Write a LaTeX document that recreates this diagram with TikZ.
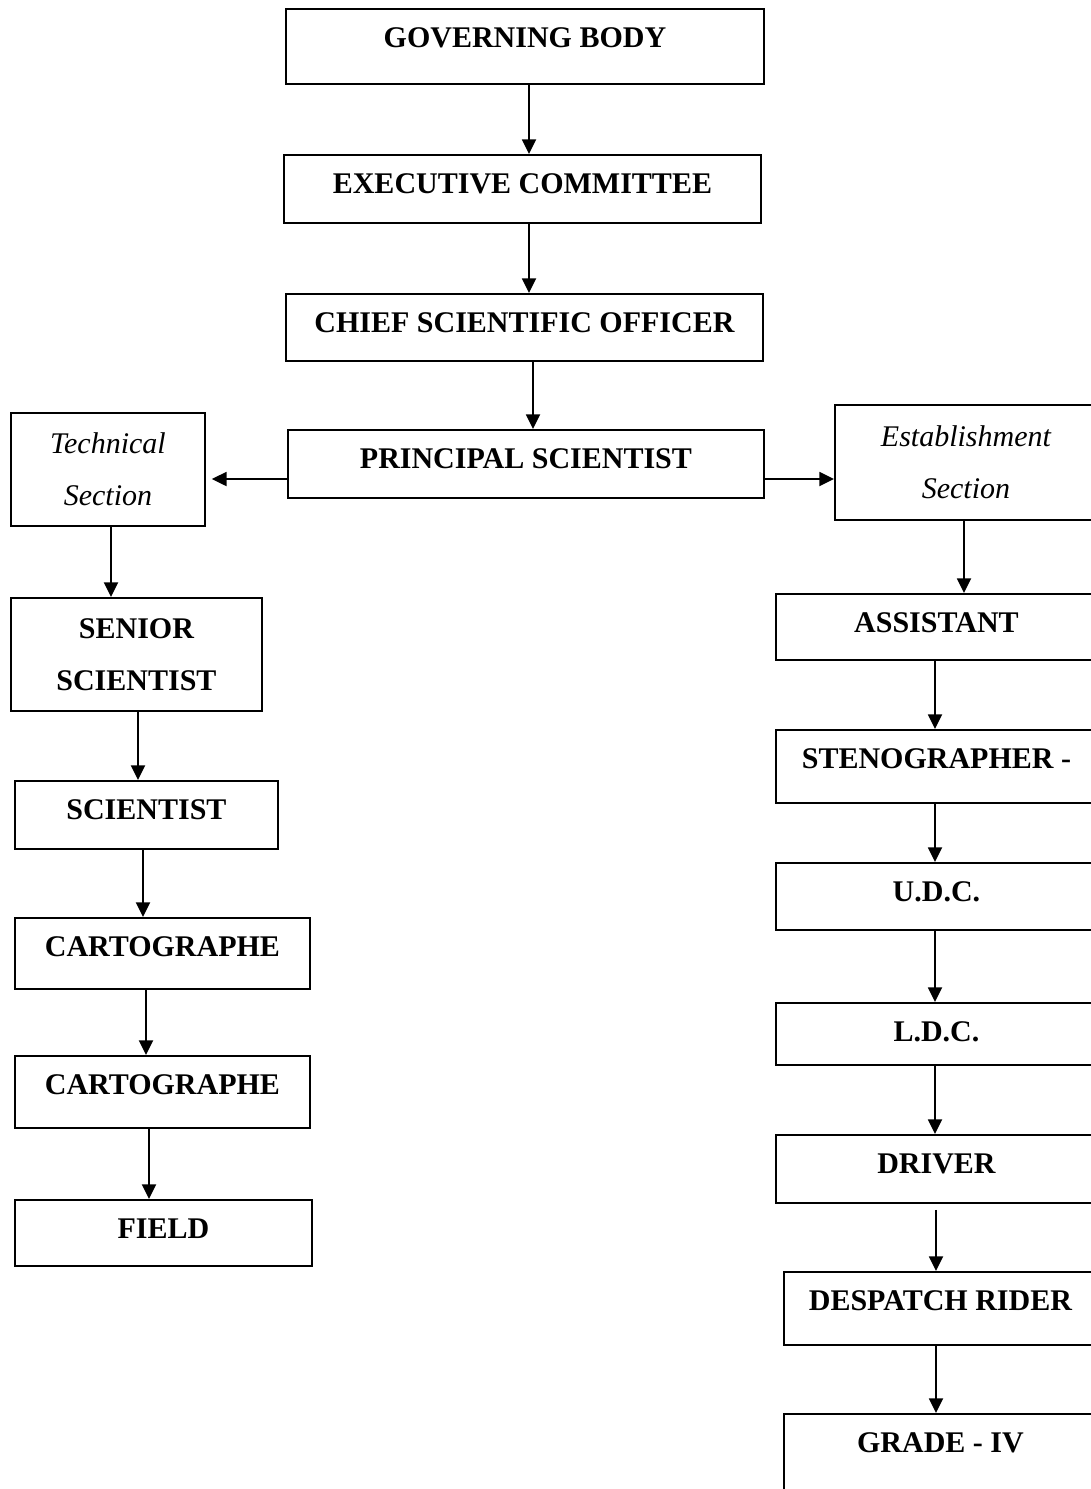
\documentclass[tikz,border=0pt]{standalone}
\usepackage{fontspec}
\setmainfont{Liberation Serif}
\usetikzlibrary{arrows.meta}

\begin{document}
\begin{tikzpicture}[x=0.75pt,y=-0.75pt,line width=1.4pt,
    postbox/.style={draw, anchor=north west, inner sep=0pt, text height=29.25pt,
        font=\fontsize{22.5}{27}\selectfont\bfseries},
    secbox/.style={draw, anchor=north west, inner sep=0pt, align=center,
        font=\fontsize{22.5}{39}\selectfont\itshape},
    twobox/.style={draw, anchor=north west, inner sep=0pt, align=center,
        font=\fontsize{22.5}{39}\selectfont\bfseries},
    down/.style={-{Triangle[length=11pt,width=10.5pt]}}
]
\useasboundingbox (0,0) rectangle (1090,1489);

\node[postbox, minimum width=358.5pt, text depth=27pt] (gb) at (285,8) {GOVERNING BODY};
\node[postbox, minimum width=357.75pt, text depth=21.75pt] (ec) at (283,154) {EXECUTIVE COMMITTEE};
\node[postbox, minimum width=357.75pt, text depth=21pt] (cso) at (285,293) {CHIEF SCIENTIFIC OFFICER};
\node[postbox, minimum width=357pt, text depth=21.75pt] (ps) at (287,429) {PRINCIPAL SCIENTIST};

\node[secbox, minimum width=145.5pt, minimum height=84.75pt] (tech) at (10,412) {Technical\\Section};
\node[secbox, minimum width=196.5pt, minimum height=86.25pt] (estab) at (834,404) {Establishment\\Section};

\node[twobox, minimum width=188.25pt, minimum height=84.75pt] (senior) at (10,597) {SENIOR\\SCIENTIST};
\node[postbox, minimum width=197.25pt, text depth=21.75pt] (sci) at (14,780) {SCIENTIST};
\node[postbox, minimum width=221.25pt, text depth=24pt] (carta) at (14,917) {CARTOGRAPHE};
\node[postbox, minimum width=221.25pt, text depth=24.75pt] (cartb) at (14,1055) {CARTOGRAPHE};
\node[postbox, minimum width=222.75pt, text depth=20.25pt] (field) at (14,1199) {FIELD};

\node[postbox, minimum width=240.75pt, text depth=20.25pt] (asst) at (775,593) {ASSISTANT};
\node[postbox, minimum width=240.75pt, text depth=25.5pt] (steno) at (775,729) {STENOGRAPHER -};
\node[postbox, minimum width=240.75pt, text depth=21pt] (udc) at (775,862) {U.D.C.};
\node[postbox, minimum width=240.75pt, text depth=17.25pt] (ldc) at (775,1002) {L.D.C.};
\node[postbox, minimum width=240.75pt, text depth=21.75pt] (driver) at (775,1134) {DRIVER};
\node[postbox, minimum width=234.75pt, text depth=25.5pt] (rider) at (783,1271) {DESPATCH RIDER};
\node[postbox, minimum width=234.75pt, text depth=36pt] (grade) at (783,1413) {GRADE - IV};

\draw[down] (gb.south -| 529,0) -- (ec.north -| 529,0);
\draw[down] (ec.south -| 529,0) -- (cso.north -| 529,0);
\draw[down] (cso.south -| 533,0) -- (ps.north -| 533,0);
\draw[down, shorten >=4.5pt] (ps.west |- 0,479) -- (tech.east |- 0,479);
\draw[down] (ps.east |- 0,479) -- (estab.west |- 0,479);

\draw[down] (tech.south -| 111,0) -- (senior.north -| 111,0);
\draw[down] (senior.south -| 138,0) -- (sci.north -| 138,0);
\draw[down] (sci.south -| 143,0) -- (carta.north -| 143,0);
\draw[down] (carta.south -| 146,0) -- (cartb.north -| 146,0);
\draw[down] (cartb.south -| 149,0) -- (field.north -| 149,0);

\draw[down] (estab.south -| 964,0) -- (asst.north -| 964,0);
\draw[down] (asst.south -| 935,0) -- (steno.north -| 935,0);
\draw[down] (steno.south -| 935,0) -- (udc.north -| 935,0);
\draw[down] (udc.south -| 935,0) -- (ldc.north -| 935,0);
\draw[down] (ldc.south -| 935,0) -- (driver.north -| 935,0);
\draw[down, shorten <=4.5pt] (driver.south -| 936,0) -- (rider.north -| 936,0);
\draw[down] (rider.south -| 936,0) -- (grade.north -| 936,0);
\end{tikzpicture}
\end{document}
